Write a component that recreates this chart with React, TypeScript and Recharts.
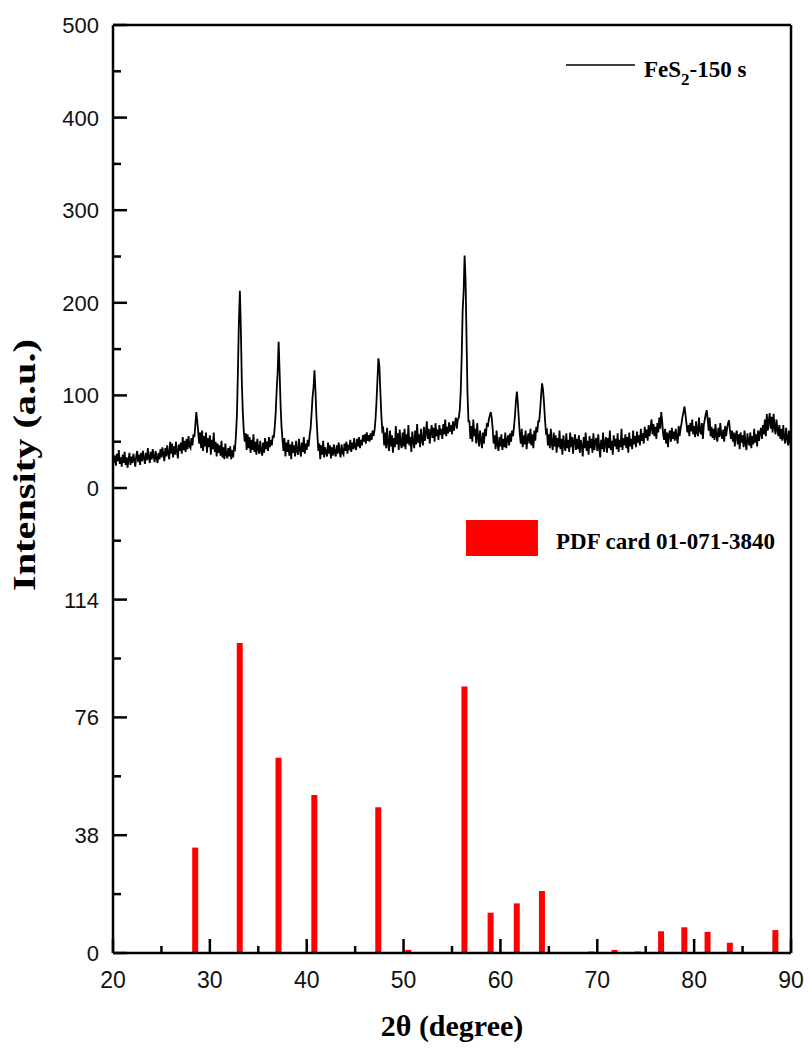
import React from 'react';
import {
  ComposedChart,
  LineChart,
  Line,
  Bar,
  XAxis,
  YAxis,
  ReferenceLine,
} from 'recharts';

// measured XRD scan, 0.1 degree steps, one array per decade
const scan20 = [
  38, 27, 35, 24, 37, 29, 41, 26, 33, 23,
  36, 27, 39, 25, 33, 22, 31, 38, 25, 34,
  27, 37, 30, 23, 35, 40, 28, 36, 25, 38,
  29, 40, 32, 26, 38, 30, 43, 33, 27, 39,
  31, 42, 34, 28, 40, 33, 27, 38, 31, 42,
  33, 44, 36, 29, 43, 34, 46, 37, 31, 50,
  37, 48, 33, 45, 36, 50, 39, 32, 47, 40,
  49, 37, 55, 41, 51, 39, 53, 42, 56, 45,
  43, 54, 46, 58, 55, 68, 82, 72, 60, 48,
  60, 43, 62, 40, 56, 45, 60, 38, 54, 44,
];
const scan30 = [
  57, 36, 52, 42, 60, 39, 50, 34, 48, 38,
  46, 35, 51, 33, 44, 31, 48, 36, 32, 43,
  34, 45, 31, 41, 33, 44, 42, 58, 80, 128,
  180, 213, 172, 115, 82, 62, 50, 59, 41, 58,
  43, 55, 38, 52, 41, 58, 39, 50, 36, 53,
  42, 37, 51, 40, 35, 49, 38, 54, 42, 50,
  40, 55, 44, 52, 46, 57, 54, 66, 82, 106,
  125, 158, 126, 90, 66, 52, 40, 54, 34, 49,
  39, 52, 35, 47, 31, 50, 38, 46, 34, 51,
  40, 36, 53, 42, 34, 49, 39, 55, 37, 48,
];
const scan40 = [
  41, 52, 45, 57, 64, 80, 98, 108, 127, 106,
  78, 58, 40, 48, 31, 46, 36, 51, 33, 44,
  38, 34, 49, 37, 46, 32, 44, 35, 47, 38,
  34, 46, 37, 49, 39, 33, 47, 38, 36, 48,
  40, 50, 37, 47, 41, 52, 39, 49, 42, 54,
  44, 41, 53, 45, 55, 43, 52, 46, 57, 50,
  58, 48, 60, 51, 57, 50, 59, 52, 62, 56,
  62, 74, 92, 116, 140, 132, 105, 80, 62, 64,
  46, 60, 43, 65, 48, 40, 62, 45, 57, 38,
  54, 44, 67, 47, 59, 41, 63, 48, 43, 60,
];
const scan50 = [
  45, 64, 42, 58, 48, 68, 46, 55, 39, 61,
  50, 43, 62, 47, 69, 49, 58, 44, 64, 52,
  46, 66, 51, 60, 72, 53, 64, 48, 59, 68,
  54, 65, 50, 70, 56, 63, 52, 68, 57, 64,
  53, 69, 58, 74, 56, 66, 59, 71, 61, 68,
  58, 72, 62, 70, 76, 64, 74, 76, 84, 104,
  142, 192, 212, 251, 225, 162, 102, 72, 72, 53,
  67, 50, 74, 56, 64, 48, 70, 54, 45, 62,
  51, 43, 60, 48, 64, 56, 70, 66, 74, 78,
  82, 76, 64, 48, 57, 42, 62, 47, 40, 55,
];
const scan60 = [
  45, 58, 41, 53, 44, 60, 43, 52, 57, 46,
  59, 50, 62, 56, 66, 78, 94, 104, 92, 74,
  58, 48, 64, 44, 57, 47, 62, 42, 54, 59,
  48, 64, 46, 58, 43, 62, 51, 66, 60, 72,
  72, 84, 100, 113, 106, 92, 74, 60, 62, 46,
  58, 43, 64, 48, 41, 60, 45, 57, 38, 54,
  44, 62, 42, 53, 36, 57, 46, 40, 59, 43,
  52, 39, 60, 44, 55, 37, 51, 58, 41, 53,
  42, 57, 38, 52, 45, 34, 55, 43, 60, 40,
  51, 36, 56, 43, 53, 38, 59, 41, 50, 54,
];
const scan70 = [
  40, 58, 44, 33, 52, 42, 60, 39, 49, 55,
  38, 54, 43, 62, 41, 51, 36, 57, 45, 53,
  42, 59, 39, 52, 44, 64, 41, 54, 46, 58,
  43, 55, 38, 60, 45, 53, 42, 62, 47, 56,
  44, 61, 49, 57, 46, 64, 51, 59, 48, 66,
  54, 63, 51, 68, 56, 65, 74, 58, 69, 56,
  66, 53, 70, 60, 76, 64, 82, 72, 58, 52,
  64, 48, 60, 44, 58, 62, 50, 65, 53, 61,
  51, 64, 55, 48, 67, 56, 64, 70, 77, 82,
  88, 80, 70, 60, 68, 56, 70, 61, 74, 58,
];
const scan80 = [
  67, 55, 72, 60, 56, 76, 62, 58, 70, 53,
  68, 74, 80, 84, 74, 62, 76, 56, 66, 54,
  64, 52, 69, 56, 50, 65, 55, 70, 58, 53,
  63, 50, 67, 56, 64, 70, 73, 62, 53, 62,
  50, 60, 45, 57, 62, 47, 58, 42, 60, 49,
  57, 44, 62, 48, 41, 59, 50, 46, 60, 43,
  56, 47, 64, 49, 58, 45, 62, 51, 60, 65,
  53, 68, 58, 74, 56, 80, 62, 72, 81, 64,
  77, 60, 80, 66, 58, 74, 63, 56, 68, 53,
  64, 51, 68, 55, 48, 65, 54, 46, 62, 50,
  42,
];

// reference pattern, PDF card 01-071-3840
const pdfAngles = [28.5, 33.1, 37.1, 40.8, 47.4, 50.5, 56.3, 59.0, 61.7, 64.3, 69.4, 71.8, 74.2, 76.6, 79.0, 81.4, 83.7, 88.4];
const pdfIntensity = [34, 100, 63, 51, 47, 1, 86, 13, 16, 20, 0.5, 1, 0.5, 7, 8.3, 6.8, 3.3, 7.4];

const xTicks = [20, 25, 30, 35, 40, 45, 50, 55, 60, 65, 70, 75, 80, 85, 90];
const xLabelled = [20, 30, 40, 50, 60, 70, 80, 90];
const topTicks = [0, 50, 100, 150, 200, 250, 300, 350, 400, 450, 500];
const topLabelled = [0, 100, 200, 300, 400, 500];
const bottomTicks = [0, 19, 38, 57, 76, 95, 114, 133];
const bottomLabelled = [0, 38, 76, 114];

const segments: [number, number[]][] = [
  [20, scan20], [30, scan30], [40, scan40], [50, scan50],
  [60, scan60], [70, scan70], [80, scan80],
];
const xrdData = segments.flatMap(([start, vals]) =>
  vals.map((v, k) => ({ t: Math.round((start + k * 0.1) * 10) / 10, i: v }))
);
const pdfData = pdfAngles.map((t, k) => ({ t, v: pdfIntensity[k] }));

const W = 809;
const PLOT_LEFT = 113;
const PLOT_RIGHT = 791;
const BOTTOM_TOP = 486; // page y where the lower chart starts
const PLOT_BOTTOM = 953 - BOTTOM_TOP; // local to the lower chart
const AXIS = { stroke: '#000', strokeWidth: 2.5 };
const sans = '"Liberation Sans", Arial, sans-serif';
const serif = '"Liberation Serif", "Times New Roman", serif';

const makeYTick = (labelled: number[]) => (props: any) => {
  const { y, payload } = props;
  const major = labelled.includes(payload.value);
  return (
    <g>
      <line x1={PLOT_LEFT} x2={PLOT_LEFT + (major ? 14 : 8)} y1={y} y2={y} stroke="#000" strokeWidth={2.5} />
      {major && (
        <text x={PLOT_LEFT - 14} y={y} dy="0.36em" textAnchor="end" fontFamily={sans} fontSize={22} fill="#111">
          {payload.value}
        </text>
      )}
    </g>
  );
};

const XTick = (props: any) => {
  const { x, payload } = props;
  const major = xLabelled.includes(payload.value);
  return (
    <g>
      <line x1={x} x2={x} y1={PLOT_BOTTOM} y2={PLOT_BOTTOM - (major ? 14 : 7)} stroke="#000" strokeWidth={2.5} />
      {major && (
        <text x={x} y={PLOT_BOTTOM + 35} textAnchor="middle" fontFamily={sans} fontSize={23} fill="#111">
          {payload.value}
        </text>
      )}
    </g>
  );
};

export default function App() {
  return (
    <div style={{ position: 'absolute', left: 0, top: 0, width: W, height: 1049, background: '#fff' }}>
      {/* top panel: measured pattern */}
      <div style={{ position: 'absolute', left: 0, top: 0 }}>
        <LineChart width={W} height={520} data={xrdData} margin={{ top: 25, right: W - PLOT_RIGHT, bottom: 32, left: 0 }}>
          <XAxis dataKey="t" type="number" domain={[20, 90]} ticks={xTicks} tick={false} tickLine={false} axisLine={AXIS} height={0} />
          <YAxis
            type="number"
            domain={[0, 500]}
            ticks={topTicks}
            interval={0}
            width={PLOT_LEFT}
            tickLine={false}
            axisLine={AXIS}
            tick={makeYTick(topLabelled)}
          />
          <Line dataKey="i" type="linear" stroke="#000" strokeWidth={1.8} dot={false} isAnimationActive={false} />
          <ReferenceLine y={500} stroke="#000" strokeWidth={2.5} />
          <ReferenceLine x={90} stroke="#000" strokeWidth={2.5} />
        </LineChart>
      </div>

      {/* bottom panel: reference card */}
      <div style={{ position: 'absolute', left: 0, top: BOTTOM_TOP }}>
        <ComposedChart width={W} height={1049 - BOTTOM_TOP} data={pdfData} margin={{ top: 2, right: W - PLOT_RIGHT, bottom: 0, left: 0 }}>
          <XAxis
            dataKey="t"
            type="number"
            domain={[20, 90]}
            ticks={xTicks}
            interval={0}
            tickLine={false}
            axisLine={AXIS}
            height={1049 - BOTTOM_TOP - 2 - (PLOT_BOTTOM - 2)}
            tick={XTick}
          />
          <YAxis
            type="number"
            domain={[0, 150]}
            ticks={bottomTicks}
            interval={0}
            width={PLOT_LEFT}
            tickLine={false}
            axisLine={AXIS}
            tick={makeYTick(bottomLabelled)}
          />
          <Bar dataKey="v" fill="#ff0000" barSize={6} isAnimationActive={false} />
          <ReferenceLine x={90} stroke="#000" strokeWidth={2.5} />
        </ComposedChart>
      </div>

      {/* legends and axis titles */}
      <svg width={W} height={1049} style={{ position: 'absolute', left: 0, top: 0, pointerEvents: 'none' }}>
        <line x1={566} x2={635} y1={65} y2={65} stroke="#000" strokeWidth={1.6} />
        <text x={644} y={77} fontFamily={serif} fontWeight="bold" fontSize={23} fill="#000">
          FeS<tspan fontSize={17} dy={8}>2</tspan><tspan dy={-8}>-150 s</tspan>
        </text>
        <rect x={466} y={520} width={72} height={36} fill="#ff0000" />
        <text x={556} y={549} fontFamily={serif} fontWeight="bold" fontSize={23} fill="#000">
          PDF card 01-071-3840
        </text>
        <text
          transform="translate(35,465) rotate(-90)"
          textAnchor="middle"
          fontFamily={serif}
          fontWeight="bold"
          fontSize={31}
          textLength={252}
          lengthAdjust="spacingAndGlyphs"
          fill="#000"
        >
          Intensity (a.u.)
        </text>
        <text x={452} y={1036} textAnchor="middle" fontFamily={serif} fontWeight="bold" fontSize={30} fill="#000">
          2θ (degree)
        </text>
      </svg>
    </div>
  );
}
